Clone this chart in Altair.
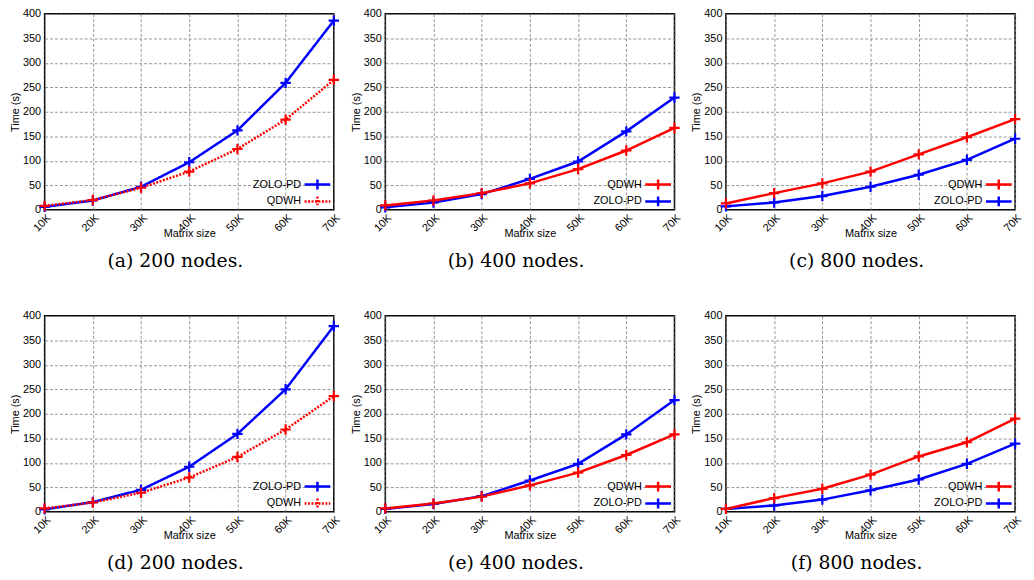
import altair as alt
import pandas as pd

sizes = [10, 20, 30, 40, 50, 60, 70]

# (a) 200 nodes
zolo_a = [6, 19, 47, 97, 162, 259, 386]
qdwh_a = [8, 20, 45, 78, 124, 184, 265]
# (b) 400 nodes
zolo_b = [5, 15, 32, 63, 98.5, 160, 229]
qdwh_b = [9, 19, 34, 54, 83, 121, 167]
# (c) 800 nodes
qdwh_c = [13, 34, 54, 78, 113, 148, 185]
zolo_c = [7, 15, 28, 47, 71.5, 102, 145]
# (d) 200 nodes
zolo_d = [5, 20, 45, 92, 159, 250, 379]
qdwh_d = [7, 19, 39, 70, 112, 168, 236]
# (e) 400 nodes
zolo_e = [6, 16, 32, 64, 98, 158, 228]
qdwh_e = [7, 17, 31, 54, 80, 116, 158]
# (f) 800 nodes
qdwh_f = [6, 28, 47, 76, 113, 142, 190]
zolo_f = [6, 13, 25, 44, 66, 98, 139]

captions = ["(a) 200 nodes.", "(b) 400 nodes.", "(c) 800 nodes.",
            "(d) 200 nodes.", "(e) 400 nodes.", "(f) 800 nodes."]

y_ticks = [0, 50, 100, 150, 200, 250, 300, 350, 400]

COLORS = {"ZOLO-PD": "#0000ff", "QDWH": "#ff0000"}
PLUS = "M-1,0H1M0,-1V1"
LEG_SYMBOL = "M-2.6,0H2.6M0,-1V1"


def panel(zolo, qdwh, order, dotted, caption):
    rows = []
    for s, vals in (("ZOLO-PD", zolo), ("QDWH", qdwh)):
        for x, v in zip(sizes, vals):
            rows.append({"size": x, "time": v, "series": s})
    df = pd.DataFrame(rows)

    legend = alt.Legend(
        title=None, orient="bottom-right", offset=alt.ExprRef(expr="-2"), padding=0,
        symbolType=LEG_SYMBOL, symbolSize=100, symbolStrokeWidth=2.5,
        labelAlign="right", labelOffset=alt.ExprRef(expr="-23"), labelFont="Liberation Sans",
        labelFontSize=11, labelColor="black", rowPadding=alt.ExprRef(expr="-8"),
        symbolFillColor="transparent",
    )
    color = alt.Color("series:N",
                      scale=alt.Scale(domain=order, range=[COLORS[s] for s in order]),
                      sort=order, legend=legend)
    x = alt.X("size:Q", scale=alt.Scale(domain=[10, 70], nice=False, zero=False),
              axis=alt.Axis(values=sizes, labelExpr="datum.value + 'K'",
                            labelAngle=315, labelAlign="right", labelBaseline="top",
                            title="Matrix size", labelPadding=2,
                            titlePadding=alt.ExprRef(expr="-6")))
    y = alt.Y("time:Q", scale=alt.Scale(domain=[0, 400], nice=False),
              axis=alt.Axis(values=y_ticks, title="Time (s)", labelPadding=4,
                            titlePadding=2))
    base = alt.Chart(df).encode(x=x, y=y, color=color)
    if dotted:
        dash = alt.StrokeDash("series:N",
                              scale=alt.Scale(domain=order,
                                              range=[[1, 0] if s == "ZOLO-PD" else [2, 1.5] for s in order]),
                              sort=order, legend=legend)
        line = base.mark_line(strokeWidth=2.5).encode(strokeDash=dash)
    else:
        line = base.mark_line(strokeWidth=2.5)
    pts = base.mark_point(shape=PLUS, filled=False, size=110, strokeWidth=2.2, opacity=1)
    return alt.layer(line, pts).properties(
        width=292, height=198,
        title=alt.TitleParams(caption, orient="bottom", anchor="middle",
                              font="DejaVu Serif", fontSize=19, fontWeight="normal",
                              color="black", dx=-14, offset=14),
    )


panels = [
    panel(zolo_a, qdwh_a, ["ZOLO-PD", "QDWH"], True, captions[0]),
    panel(zolo_b, qdwh_b, ["QDWH", "ZOLO-PD"], False, captions[1]),
    panel(zolo_c, qdwh_c, ["QDWH", "ZOLO-PD"], False, captions[2]),
    panel(zolo_d, qdwh_d, ["ZOLO-PD", "QDWH"], True, captions[3]),
    panel(zolo_e, qdwh_e, ["QDWH", "ZOLO-PD"], False, captions[4]),
    panel(zolo_f, qdwh_f, ["QDWH", "ZOLO-PD"], False, captions[5]),
]

chart = alt.ConcatChart(
    concat=panels, columns=3,
    spacing=alt.RowColnumber(row=107, column=52),
    bounds="flush",
).resolve_scale(
    x="independent", y="independent", color="independent", strokeDash="independent"
).resolve_legend(
    color="independent", strokeDash="independent"
).configure_view(
    stroke="black", strokeWidth=1.5
).configure_axis(
    ticks=False, domain=False, grid=True, gridColor="#7a7a7a", gridDash=[3, 2],
    gridWidth=0.8, labelFont="Liberation Sans", labelFontSize=11, labelColor="black",
    titleFont="Liberation Sans", titleFontSize=11, titleFontWeight="normal",
    titleColor="black",
).properties(
    padding={"left": 0, "top": -4, "right": 0, "bottom": 0},
    background="white",
)

chart.save("out.html", embed_options={"renderer": "svg", "actions": False})
